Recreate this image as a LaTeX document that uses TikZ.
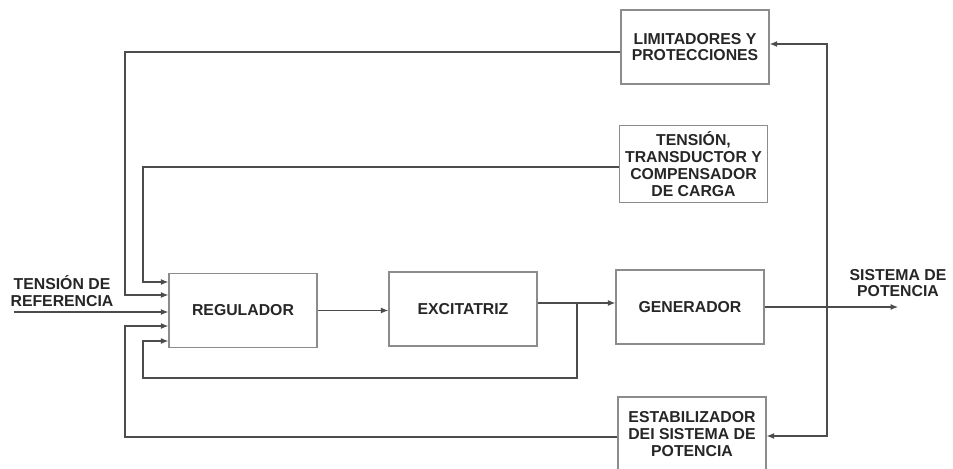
\documentclass[tikz,border=0pt]{standalone}
\usepackage{fontspec}
\setmainfont{Liberation Sans}
\usetikzlibrary{arrows.meta}
\tikzset{
  blk/.style={draw=black!45, line width=0.8pt, minimum width=2.96cm, minimum height=1.48cm,
    align=center, font=\fontsize{9}{9.6}\selectfont\bfseries, text=black!85},
  lbl/.style={align=center, font=\fontsize{9}{9.6}\selectfont\bfseries, text=black!85},
  ln/.style={draw=black!70, line width=0.6pt},
  >={Latex[length=1.5mm,width=1.2mm]}
}
\begin{document}
\begin{tikzpicture}[x=0.02cm,y=-0.02cm]
  \useasboundingbox (0,0) rectangle (953,469);
  \node[blk] (reg) at (243,310.5) {REGULADOR};
  \node[blk] (exc) at (463,309) {EXCITATRIZ};
  \node[blk] (gen) at (690,307) {GENERADOR};
  \node[blk] (lim) at (695,47) {LIMITADORES Y\\PROTECCIONES};
  \node[blk] (tra) at (693.5,164) {TENSIÓN,\\TRANSDUCTOR Y\\COMPENSADOR\\DE CARGA};
  \node[blk] (est) at (692,434) {ESTABILIZADOR\\DEI SISTEMA DE\\POTENCIA};
  \node[lbl] (ref) at (62,291) {TENSIÓN DE\\REFERENCIA};
  \node[lbl] (sis) at (898,283) {SISTEMA DE\\POTENCIA};
  \coordinate (refin) at (14,312);
  \coordinate (j) at (577,303);
  \coordinate (v) at (827,307);
  \coordinate (out) at (898,307);
  % forward path
  \draw[ln,->] (refin) -- (reg.west |- refin);
  \draw[ln,->] (reg.east) -- (exc.west |- reg.east);
  \draw[ln,->] (exc.east |- j) -- (gen.west |- j);
  \draw[ln,->] (gen.east) -- (out);
  % feedback loops
  \draw[ln,->] (lim.west |- 0,52) -| (125,295) -- (reg.west |- 0,295);
  \draw[ln,->] (tra.west |- 0,167) -| (143,282) -- (reg.west |- 0,282);
  \draw[ln,->] (est.west |- 0,437) -| (125,326) -- (reg.west |- 0,326);
  \draw[ln,->] (j) |- (143,378) |- (reg.west |- 0,341);
  \draw[ln,->] (v) |- (lim.east |- 0,44);
  \draw[ln,->] (v) |- (est.east |- 0,436);
\end{tikzpicture}
\end{document}
